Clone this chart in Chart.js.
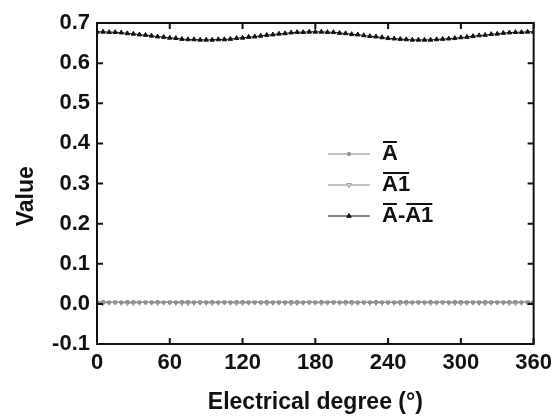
<!DOCTYPE html>
<html>
<head>
<meta charset="utf-8">
<script src="https://cdn.jsdelivr.net/npm/chart.js@4/dist/chart.umd.min.js"></script>
<style>
  html, body { margin: 0; padding: 0; background: #fff; }
  #wrap { width: 558px; height: 416px; }
</style>
</head>
<body>
<div id="wrap"><canvas id="chart"></canvas></div>
<script>
// electrical degree of each sample
const degrees = [
  0, 5, 10, 15, 20, 25, 30, 35, 40, 45, 50, 55,
  60, 65, 70, 75, 80, 85, 90, 95, 100, 105, 110, 115,
  120, 125, 130, 135, 140, 145, 150, 155, 160, 165, 170, 175,
  180, 185, 190, 195, 200, 205, 210, 215, 220, 225, 230, 235,
  240, 245, 250, 255, 260, 265, 270, 275, 280, 285, 290, 295,
  300, 305, 310, 315, 320, 325, 330, 335, 340, 345, 350, 355,
  360
];

const seriesA = [
  0.004, 0.005, 0.004, 0.003, 0.004, 0.005, 0.005, 0.004, 0.003, 0.004, 0.005, 0.004,
  0.003, 0.004, 0.005, 0.005, 0.004, 0.003, 0.004, 0.005, 0.004, 0.003, 0.004, 0.005,
  0.005, 0.004, 0.003, 0.004, 0.005, 0.004, 0.003, 0.004, 0.005, 0.005, 0.004, 0.003,
  0.004, 0.005, 0.004, 0.003, 0.004, 0.005, 0.005, 0.004, 0.003, 0.004, 0.005, 0.004,
  0.003, 0.004, 0.005, 0.005, 0.004, 0.003, 0.004, 0.005, 0.004, 0.003, 0.004, 0.005,
  0.005, 0.004, 0.003, 0.004, 0.005, 0.004, 0.003, 0.004, 0.005, 0.005, 0.004, 0.003,
  0.004
];

const seriesA1 = [
  0.003, 0.002, 0.003, 0.004, 0.003, 0.002, 0.002, 0.003, 0.004, 0.003, 0.002, 0.003,
  0.004, 0.003, 0.002, 0.002, 0.003, 0.004, 0.003, 0.002, 0.003, 0.004, 0.003, 0.002,
  0.002, 0.003, 0.004, 0.003, 0.002, 0.003, 0.004, 0.003, 0.002, 0.002, 0.003, 0.004,
  0.003, 0.002, 0.003, 0.004, 0.003, 0.002, 0.002, 0.003, 0.004, 0.003, 0.002, 0.003,
  0.004, 0.003, 0.002, 0.002, 0.003, 0.004, 0.003, 0.002, 0.003, 0.004, 0.003, 0.002,
  0.002, 0.003, 0.004, 0.003, 0.002, 0.003, 0.004, 0.003, 0.002, 0.002, 0.003, 0.004,
  0.003
];

const seriesDiff = [
  0.678, 0.678, 0.677, 0.677, 0.676, 0.674, 0.673, 0.671, 0.670, 0.668, 0.666, 0.665,
  0.663, 0.662, 0.660, 0.659, 0.659, 0.658, 0.658, 0.658, 0.659, 0.659, 0.660, 0.662,
  0.663, 0.665, 0.666, 0.668, 0.670, 0.671, 0.673, 0.674, 0.676, 0.677, 0.677, 0.678,
  0.678, 0.678, 0.677, 0.677, 0.675, 0.674, 0.672, 0.671, 0.669, 0.667, 0.666, 0.664,
  0.662, 0.661, 0.660, 0.659, 0.658, 0.658, 0.658, 0.658, 0.659, 0.660, 0.661, 0.662,
  0.664, 0.665, 0.667, 0.669, 0.670, 0.672, 0.673, 0.675, 0.676, 0.677, 0.677, 0.678,
  0.678
];

const seriesLabels = ['A', 'A1', 'A-A1'];

const FONT = "'Liberation Sans', Arial, sans-serif";
const INK = '#111';

function toPoints(values) {
  return degrees.map((d, i) => ({ x: d, y: values[i] }));
}

// closed frame round the plot plus inward tick marks on all four sides
const frameTicks = {
  id: 'frameTicks',
  afterDatasetsDraw(chart) {
    const { ctx, chartArea: a, scales: { x, y } } = chart;
    ctx.save();
    ctx.strokeStyle = INK;
    ctx.lineWidth = 2;
    ctx.strokeRect(a.left, a.top, a.right - a.left, a.bottom - a.top);
    ctx.beginPath();
    x.ticks.forEach(t => {
      const px = x.getPixelForValue(t.value);
      ctx.moveTo(px, a.bottom); ctx.lineTo(px, a.bottom - 6);
      ctx.moveTo(px, a.top); ctx.lineTo(px, a.top + 6);
    });
    y.ticks.forEach(t => {
      const py = y.getPixelForValue(t.value);
      ctx.moveTo(a.left, py); ctx.lineTo(a.left + 6, py);
      ctx.moveTo(a.right, py); ctx.lineTo(a.right - 6, py);
    });
    ctx.stroke();
    ctx.restore();
  }
};

// legend inside the plot; every A / A1 is written with a bar over it
const barLegend = {
  id: 'barLegend',
  afterDraw(chart) {
    const { ctx } = chart;
    const x0 = 328, x1 = 370, textX = 382, rows = [154, 185, 216];
    ctx.save();
    ctx.font = 'bold 22px ' + FONT;
    ctx.textBaseline = 'middle';
    ctx.textAlign = 'left';
    chart.data.datasets.forEach((ds, i) => {
      const cy = rows[i];
      ctx.strokeStyle = ds.borderColor;
      ctx.lineWidth = 1;
      ctx.beginPath(); ctx.moveTo(x0, cy); ctx.lineTo(x1, cy); ctx.stroke();
      ctx.fillStyle = ds.pointBackgroundColor;
      ctx.strokeStyle = ds.pointBorderColor;
      Chart.helpers.drawPoint(ctx, {
        pointStyle: ds.pointStyle, radius: ds.pointRadius,
        rotation: ds.pointRotation || 0, borderWidth: 1
      }, (x0 + x1) / 2, cy);

      ctx.fillStyle = INK;
      ctx.strokeStyle = INK;
      ctx.lineWidth = 2;
      let tx = textX;
      ds.label.split('-').forEach((part, k) => {
        if (k > 0) {
          ctx.fillText('-', tx, cy);
          tx += ctx.measureText('-').width;
        }
        ctx.fillText(part, tx, cy);
        const w = ctx.measureText(part).width;
        ctx.beginPath();
        ctx.moveTo(tx + 1, cy - 12); ctx.lineTo(tx + w - 1, cy - 12);
        ctx.stroke();
        tx += w;
      });
    });
    ctx.restore();
  }
};

new Chart(document.getElementById('chart'), {
  type: 'line',
  data: {
    datasets: [
      {
        label: seriesLabels[0],
        data: toPoints(seriesA),
        borderColor: '#8a8a8a',
        borderWidth: 1,
        pointStyle: 'rect',
        pointRadius: 1.8,
        pointBackgroundColor: '#9a9a9a',
        pointBorderColor: '#8a8a8a',
        pointBorderWidth: 1
      },
      {
        label: seriesLabels[1],
        data: toPoints(seriesA1),
        borderColor: '#8a8a8a',
        borderWidth: 1,
        pointStyle: 'triangle',
        pointRotation: 180,
        pointRadius: 2.6,
        pointBackgroundColor: '#ffffff',
        pointBorderColor: '#8a8a8a',
        pointBorderWidth: 1
      },
      {
        label: seriesLabels[2],
        data: toPoints(seriesDiff),
        borderColor: INK,
        borderWidth: 1,
        pointStyle: 'triangle',
        pointRadius: 2.6,
        pointBackgroundColor: INK,
        pointBorderColor: INK,
        pointBorderWidth: 1
      }
    ]
  },
  options: {
    responsive: true,
    maintainAspectRatio: false,
    animation: false,
    layout: { padding: { top: 23, right: 23, left: 0, bottom: 0 } },
    plugins: {
      legend: { display: false },
      tooltip: { enabled: false }
    },
    scales: {
      x: {
        type: 'linear',
        min: 0,
        max: 360,
        afterFit: s => { s.height = 72; },
        ticks: { stepSize: 60, padding: 6, color: INK, font: { family: FONT, size: 22, weight: 'bold' } },
        grid: { display: false, drawTicks: false },
        border: { display: false },
        title: {
          display: true,
          text: 'Electrical degree (°)',
          color: INK,
          padding: { top: 0, bottom: 0 },
          font: { family: FONT, size: 23, weight: 'bold' }
        }
      },
      y: {
        min: -0.1,
        max: 0.7,
        afterFit: s => { s.width = 97; },
        ticks: {
          stepSize: 0.1,
          padding: 7,
          color: INK,
          font: { family: FONT, size: 22, weight: 'bold' },
          callback: v => (Math.abs(v) < 1e-9 ? 0 : v).toFixed(1)
        },
        grid: { display: false, drawTicks: false },
        border: { display: false },
        title: {
          display: true,
          text: 'Value    ',
          color: INK,
          padding: { top: 13, bottom: 0 },
          font: { family: FONT, size: 23, weight: 'bold' }
        }
      }
    }
  },
  plugins: [frameTicks, barLegend]
});
</script>
</body>
</html>
